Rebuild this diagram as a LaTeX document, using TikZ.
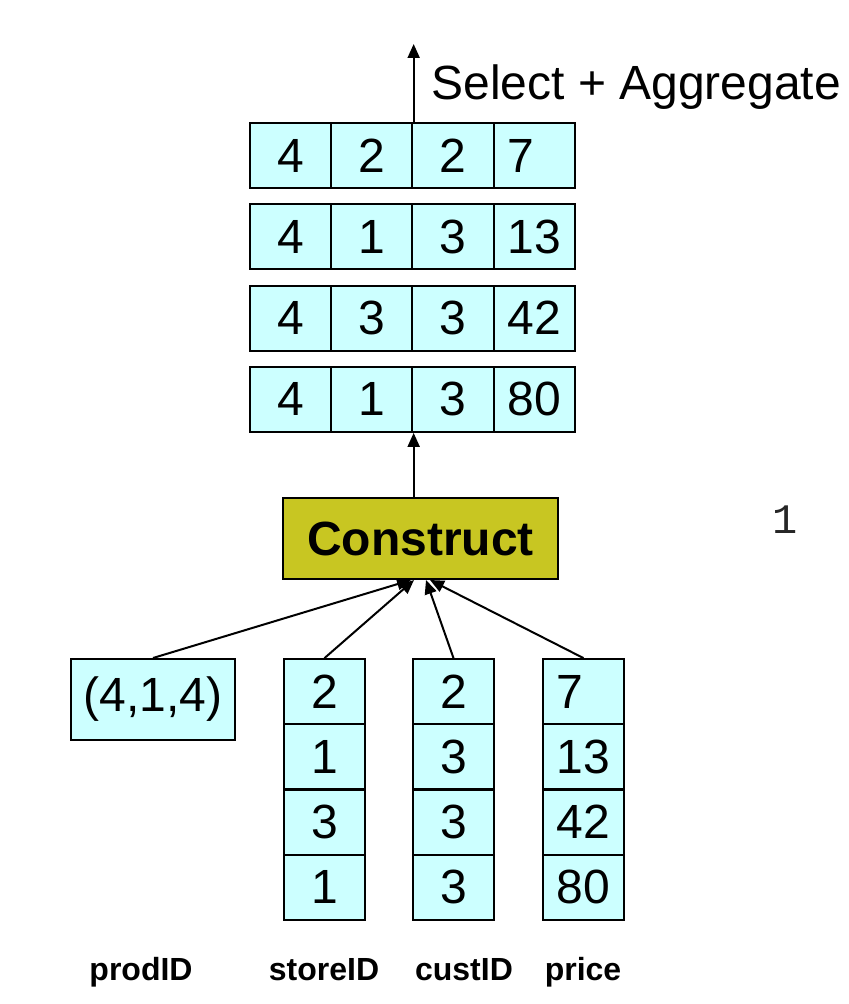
\documentclass[tikz,border=0pt]{standalone}
\usepackage{fontspec}
\setmainfont{Liberation Sans}
\newfontfamily\monofont{Liberation Mono}
\usetikzlibrary{arrows.meta}
\definecolor{cellcyan}{RGB}{204,255,255}
\definecolor{consolive}{RGB}{200,198,34}

\begin{document}
\begin{tikzpicture}[x=0.5pt,y=-0.5pt,
  cell/.style={draw,line width=1pt,fill=cellcyan,minimum width=40.75pt,minimum height=32.5pt,inner sep=0pt,font=\fontsize{24}{28}\selectfont},
  numcell/.style={cell,text width=27pt,align=left},
  flow/.style={line width=1pt,-{Triangle[length=7pt,width=6pt]}},
  colname/.style={anchor=base,inner sep=0pt,font=\fontsize{16}{19}\selectfont\bfseries}]
\useasboundingbox (0,0) rectangle (848,1004);
% constructed tuples
\foreach \r/\a/\b/\c/\d in {1/4/2/2/7, 2/4/1/3/13, 3/4/3/3/42, 4/4/1/3/80} {
  \node[cell] (r\r-1) at (290.6,{155.5+81.3*(\r-1)}) {\a};
  \node[cell] (r\r-2) at (371.9,{155.5+81.3*(\r-1)}) {\b};
  \node[cell] (r\r-3) at (453.1,{155.5+81.3*(\r-1)}) {\c};
  \node[numcell] (r\r-4) at (534.4,{155.5+81.3*(\r-1)}) {\d};
}
\coordinate (out) at ([yshift=39pt]r1-2.north east);
\draw[flow] (r1-2.north east) -- (out);
\node[anchor=base west,inner sep=0pt,font=\fontsize{24}{28}\selectfont] (selagg) at (431,100) {Select + Aggregate};
% operator
\node[draw,line width=1pt,fill=consolive,minimum width=137.5pt,minimum height=40.5pt,
  font=\fontsize{24}{28}\selectfont\bfseries] (cons) at (420.5,538.5) {Construct};
\draw[flow] (cons.north -| r4-2.south east) -- (r4-2.south east);
\node[anchor=base,inner sep=0pt,text=black!85,font=\monofont\fontsize{21}{24}\selectfont] (one) at (785,533) {1};
% input columns
\node[cell,minimum width=82pt,minimum height=40.5pt] (tuple) at (153,699.5) {(4,1,4)};
\foreach \v [count=\i] in {2,1,3,1}
  \node[cell] (store\i) at (324.5,{691.6+65.25*(\i-1)}) {\v};
\foreach \v [count=\i] in {2,3,3,3}
  \node[cell] (cust\i) at (453.5,{691.6+65.25*(\i-1)}) {\v};
\foreach \v [count=\i] in {7,13,42,80}
  \node[numcell] (price\i) at (583.5,{691.6+65.25*(\i-1)}) {\v};
\draw[flow] (tuple.north) -- ([xshift=-4.75pt]cons.south);
\draw[flow] (store1.north) -- ([xshift=-3.25pt]cons.south);
\draw[flow] (cust1.north) -- ([xshift=2.75pt]cons.south);
\draw[flow] (price1.north) -- ([xshift=4.75pt]cons.south);
\node[colname] (prodlbl) at (141,980) {prodID};
\node[colname] (storelbl) at (324,980) {storeID};
\node[colname] (custlbl) at (464,980) {custID};
\node[colname] (pricelbl) at (583,980) {price};
\end{tikzpicture}
\end{document}
